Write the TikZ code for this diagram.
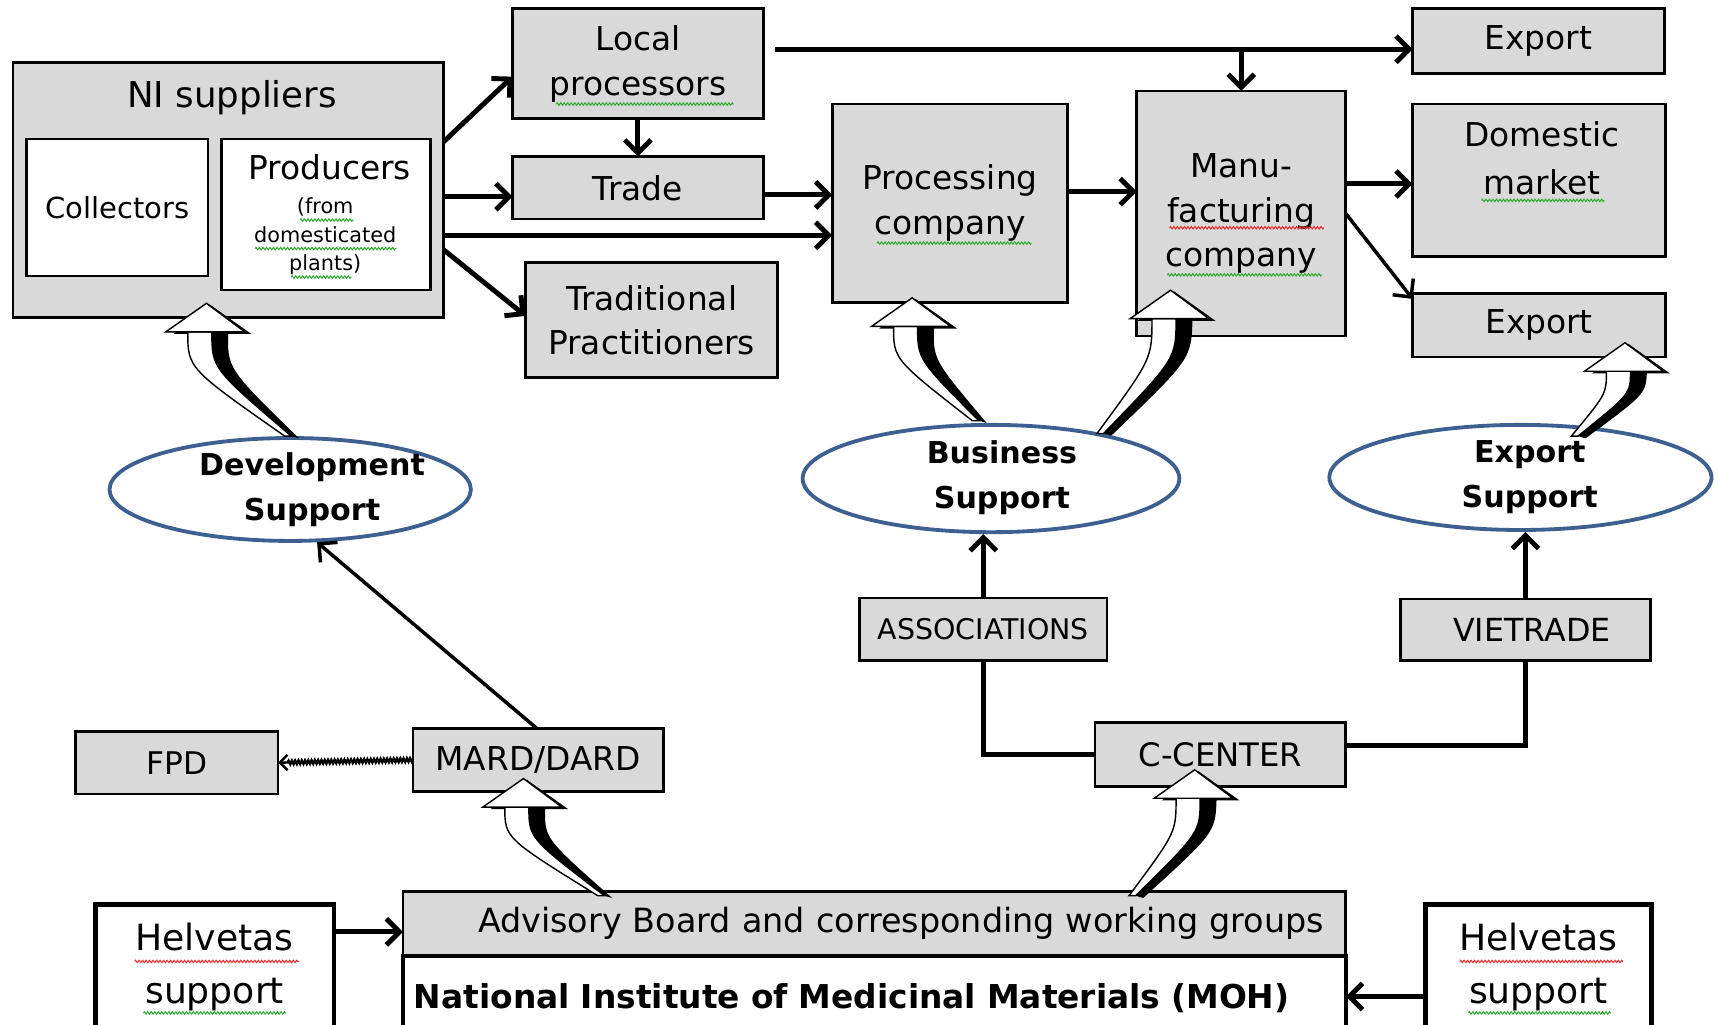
\documentclass[tikz,border=0pt]{standalone}
\usepackage{fontspec}
\setmainfont{DejaVu Sans}
\usetikzlibrary{arrows.meta,shapes.geometric,calc,decorations.pathmorphing}
\definecolor{boxgray}{RGB}{217,217,217}
\definecolor{ellblue}{RGB}{62,96,145}
\definecolor{spellgreen}{RGB}{40,170,40}
\definecolor{spellred}{RGB}{235,40,40}

% hollow curved block arrow with a black side, from #1 up to the tip #2
\newcommand{\supparrow}[2]{%
  \coordinate (S) at (#1);
  \coordinate (T) at (#2);
  \coordinate (B) at ($(T)+(0,26)$);
  \coordinate (P) at ($(B)!0.35!(S)$);
  \coordinate (M) at (B |- P);
  \fill[black] ($(S)+(1,0)$) .. controls ($(M)+(5,0)$) .. ($(B)+(5,0)$) -- ($(B)+(20,0)$) .. controls ($(M)+(19,0)$) .. ($(S)+(8,2)$) -- cycle;
  \fill[black] ($(T)+(3,1)$) -- ($(B)+(41,2)$) -- ($(B)+(-30,2)$) -- cycle;
  \filldraw[fill=white, draw=black, line width=1.3pt] ($(S)+(-5,0)$) .. controls ($(M)+(-17,0)$) .. ($(B)+(-17,0)$) -- ($(B)+(5,0)$) .. controls ($(M)+(5,0)$) .. ($(S)+(1,0)$) -- cycle;
  \filldraw[fill=white, draw=black, line width=1.3pt] (T) -- ($(B)+(35,0)$) -- ($(B)+(-37,0)$) -- cycle;
}

\begin{document}
\begin{tikzpicture}[x=1pt, y=-1pt,
  grybox/.style={draw, line width=2.4pt, fill=boxgray, inner sep=0pt, outer sep=0pt, align=center, font=\fontsize{30}{41}\selectfont},
  whtbox/.style={grybox, fill=white},
  suppell/.style={ellipse, draw=ellblue, line width=3.5pt, fill=white, inner sep=0pt},
  suptext/.style={align=center, inner sep=0pt, font=\bfseries\fontsize{27.5}{41}\selectfont},
  flow/.style={line width=4.5pt, -{Straight Barb[length=12pt, width=24pt]}},
  thin flow/.style={flow, line width=3.2pt},
  link/.style={line width=4.5pt},
  spell/.style={draw=#1, line width=0.9pt, decorate, decoration={zigzag, amplitude=1.1pt, segment length=3.2pt}}]
\clip (0,0) rectangle (1568,936);

% suppliers
\node[grybox, minimum width=393pt, minimum height=233pt] (ni) at (208.5,173.5) {};
\node[font=\fontsize{32.5}{40}\selectfont] (nititle) at (212,89) {NI suppliers};
\node[whtbox, minimum width=166pt, minimum height=125pt, font=\fontsize{26.5}{36}\selectfont] (coll) at (107,189.5) {Collectors};
\node[whtbox, minimum width=191pt, minimum height=138pt] (prod) at (297.5,196) {};
\node (prodtitle) at (301,153) {\fontsize{30}{41}\selectfont Producers};
\node[align=center, font=\fontsize{19}{26}\selectfont] (prodnote) at (297,216) {(from\\domesticated\\plants)};

% chain
\node[grybox, minimum width=229pt, minimum height=100pt] (locproc) at (582.5,58) {Local\\processors};
\node[grybox, minimum width=229pt, minimum height=57pt] (trade) at (582.5,171.5) {Trade};
\node[grybox, minimum width=230pt, minimum height=105pt] (tradprac) at (595,292.5) {Traditional\\Practitioners};
\node[grybox, minimum width=215pt, minimum height=181pt] (proccomp) at (867.5,185.5) {Processing\\company};
\node[grybox, minimum width=191pt, minimum height=224pt] (manuf) at (1133.5,195) {Manu-\\facturing\\company};
\node[grybox, minimum width=230pt, minimum height=59pt] (exptop) at (1405,37.5) {Export};
\node[grybox, minimum width=231pt, minimum height=139pt] (domestic) at (1405.5,164.5) {};
\node[align=center, font=\fontsize{30}{43}\selectfont] (domtext) at (1408,144.5) {Domestic\\market};
\node[grybox, minimum width=231pt, minimum height=58pt] (explow) at (1405.5,297) {Export};

% support
\node[suppell, minimum width=330pt, minimum height=94pt] (devsup) at (265,447) {};
\node[suptext] (devtext) at (285,447.5) {Development\\Support};
\node[suppell, minimum width=344pt, minimum height=98pt] (bussup) at (905,437) {};
\node[suptext] (bustext) at (915,436) {Business\\Support};
\node[suppell, minimum width=349pt, minimum height=96pt] (expsup) at (1388.5,436) {};
\node[suptext] (exptext) at (1397,436) {Export\\Support};

% institutions
\node[grybox, minimum width=226pt, minimum height=57pt, font=\fontsize{26}{32}\selectfont] (assoc) at (898,574.5) {ASSOCIATIONS};
\node[grybox, minimum width=228pt, minimum height=56pt, font=\fontsize{29}{32}\selectfont] (vietrade) at (1393,575) {\hspace*{12pt}VIETRADE};
\node[grybox, minimum width=185pt, minimum height=57pt, font=\fontsize{28.5}{32}\selectfont] (fpd) at (161.5,696.5) {FPD};
\node[grybox, minimum width=229pt, minimum height=58pt] (mard) at (491.5,694) {MARD/DARD};
\node[grybox, minimum width=229pt, minimum height=58pt, font=\fontsize{29.5}{32}\selectfont] (ccenter) at (1114.5,689) {C-CENTER};
\node[grybox, minimum width=861pt, minimum height=59pt, text width=821pt, align=right, font=\fontsize{30.5}{36}\selectfont] (advisory) at (798.5,843.5) {Advisory Board and corresponding working groups};
\node[whtbox, line width=4pt, minimum width=861pt, minimum height=77pt, text width=841pt, align=left, font=\bfseries\fontsize{30}{34}\selectfont] (natinst) at (798.5,911.5) {National Institute of Medicinal Materials (MOH)};
\node[whtbox, line width=4.5pt, minimum width=218pt, minimum height=114pt, font=\fontsize{33}{49}\selectfont] (helvl) at (196,883) {Helvetas\\support};
\node[whtbox, line width=4.5pt, minimum width=206pt, minimum height=114pt, font=\fontsize{33}{49}\selectfont] (helvr) at (1405,883) {Helvetas\\support};

% flows
\draw[flow] ([yshift=44pt]ni.east) -- ([yshift=-12pt]locproc.west);
\coordinate (trin) at ([yshift=-8pt]trade.west);
\draw[flow] (ni.east |- trin) -- (trin);
\coordinate (pcin) at ([yshift=-29.5pt]proccomp.west);
\draw[flow] (ni.east |- pcin) -- (pcin);
\draw[flow] ([yshift=-54.5pt]ni.east) -- ([yshift=4pt]tradprac.west);
\draw[flow] (locproc.south) -- (trade.north);
\coordinate (pcin2) at ([yshift=7.5pt]proccomp.west);
\draw[flow] (trade.east |- pcin2) -- (pcin2);
\coordinate (toplead) at ([xshift=11pt, yshift=13pt]locproc.east);
\draw[flow] (toplead) -- (exptop.west |- toplead);
\draw[flow] (manuf.north |- toplead) -- (manuf.north);
\coordinate (mfin) at ([yshift=20pt]manuf.west);
\draw[flow] (proccomp.east |- mfin) -- (mfin);
\coordinate (domin) at ([yshift=-3.5pt]domestic.west);
\draw[flow] (manuf.east |- domin) -- (domin);
\draw[thin flow] (manuf.east) -- ([yshift=-5pt]explow.north west);

\draw[thin flow] ([xshift=-1.5pt]mard.north) -- (devsup.-63);
\draw[line width=2.2pt, -{Straight Barb[length=7pt, width=14pt]}, decorate, decoration={snake, amplitude=1.6pt, segment length=3pt, post length=8pt}] (mard.west) -- (fpd.east);
\draw[flow] (assoc.north) -- (assoc.north |- bussup.south);
\draw[link] (ccenter.west) -| (assoc.south);
\draw[link] ([yshift=8pt]ccenter.east) -| (vietrade.south);
\draw[flow] (vietrade.north) -- (vietrade.north |- expsup.south);
\coordinate (advin) at ([yshift=32pt]helvl.east);
\draw[flow] (advin) -- (advisory.west |- advin);
\coordinate (natin) at ([yshift=-27pt]helvr.west);
\draw[flow] (natin) -- (natinst.east |- natin);

% support arrows
\supparrow{devsup.north}{[xshift=-20pt, yshift=13pt]ni.south}
\supparrow{[xshift=-12pt, yshift=2pt]bussup.north}{[xshift=-34.5pt, yshift=4pt]proccomp.south}
\supparrow{bussup.22}{[xshift=-64.5pt, yshift=42pt]manuf.south}
\supparrow{[xshift=51.5pt, yshift=-12pt]expsup.north}{[xshift=78.5pt, yshift=13pt]explow.south}
\supparrow{[xshift=-247.5pt, yshift=-4pt]advisory.north}{[xshift=-13.5pt, yshift=12pt]mard.south}
\supparrow{[xshift=237.5pt, yshift=-4pt]advisory.north}{[xshift=-23.5pt, yshift=15pt]ccenter.south}

% spelling marks
\draw[spell=spellgreen] (508,95) -- (670,95);
\draw[spell=spellgreen] (801,222) -- (942,222);
\draw[spell=spellred] (1068,208) -- (1209,208);
\draw[spell=spellgreen] (1066,251) -- (1207,251);
\draw[spell=spellgreen] (1353,183) -- (1465,183);
\draw[spell=spellgreen] (274,201) -- (323,201);
\draw[spell=spellgreen] (233,227) -- (362,227);
\draw[spell=spellgreen] (266,253) -- (321,253);
\draw[spell=spellred] (123,878) -- (273,878);
\draw[spell=spellgreen] (131,925) -- (261,925);
\draw[spell=spellred] (1333,878) -- (1482,878);
\draw[spell=spellgreen] (1341,925) -- (1471,925);
\end{tikzpicture}
\end{document}
